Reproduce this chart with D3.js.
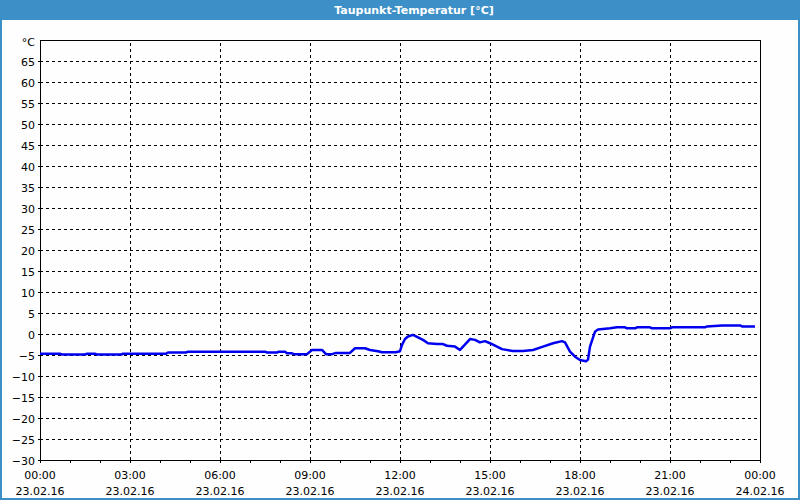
<!DOCTYPE html>
<html>
<head>
<meta charset="utf-8">
<script src="https://cdn.jsdelivr.net/npm/d3@7"></script>
<style>
  html, body { margin: 0; padding: 0; background: #fdfefd; }
  svg { display: block; }
  text { font-family: "DejaVu Sans", Verdana, sans-serif; }
</style>
</head>
<body>
<svg id="chart" width="800" height="500"></svg>
<script>
const title = "Taupunkt-Temperatur [°C]";
const unitLabel = "°C";
const day = "2016-02-23";
const times = ["00:00","00:40","00:44","01:30","01:34","01:50","01:54","02:42","02:46","04:12",
  "04:16","04:52","04:56","07:30","07:34","07:54","07:58","08:10","08:14","08:24",
  "08:28","08:54","09:04","09:24","09:32","09:44","09:52","10:20","10:30","10:50",
  "11:00","11:16","11:24","11:52","12:00","12:04","12:10","12:16","12:26","12:46",
  "12:56","13:14","13:26","13:34","13:50","14:00","14:20","14:30","14:40","14:50",
  "15:00","15:14","15:24","15:46","16:06","16:26","16:46","17:06","17:24","17:30",
  "17:40","17:50","18:00","18:12","18:16","18:20","18:30","18:36","19:00","19:14",
  "19:30","19:34","19:50","19:54","20:20","20:24","21:00","21:04","22:10","22:14",
  "22:44","23:20","23:24","23:50"];
const dewPoint = [-4.7,-4.7,-4.9,-4.9,-4.7,-4.7,-4.9,-4.9,-4.7,-4.7,
  -4.4,-4.4,-4.2,-4.2,-4.4,-4.4,-4.2,-4.2,-4.6,-4.6,
  -4.8,-4.8,-3.8,-3.8,-4.8,-4.8,-4.5,-4.5,-3.4,-3.4,
  -3.8,-4.1,-4.35,-4.35,-4.1,-2.6,-1.2,-0.6,-0.2,-1.4,
  -2.2,-2.4,-2.4,-2.8,-3.0,-3.8,-1.2,-1.4,-2.0,-1.7,
  -2.2,-3.0,-3.6,-4.05,-4.05,-3.8,-3.0,-2.2,-1.7,-2.0,
  -4.2,-5.4,-6.2,-6.5,-6.1,-3.0,0.55,1.1,1.35,1.6,
  1.6,1.35,1.35,1.6,1.6,1.35,1.35,1.6,1.6,1.8,
  2.05,2.05,1.8,1.8];
const yTicks = [-30,-25,-20,-15,-10,-5,0,5,10,15,20,25,30,35,40,45,50,55,60,65];
const xTickHours = [0,3,6,9,12,15,18,21,24];
const xTickTimes = ["00:00","03:00","06:00","09:00","12:00","15:00","18:00","21:00","00:00"];
const xTickDates = ["23.02.16","23.02.16","23.02.16","23.02.16","23.02.16","23.02.16","23.02.16","23.02.16","24.02.16"];

const svg = d3.select("#chart");
const W = 800, H = 500;
const m = {left: 40, right: 40, top: 40, bottom: 40};
const pw = W - m.left - m.right, ph = H - m.top - m.bottom;
const blue = "#3c8fc7";

// frame & title bar
svg.append("rect").attr("x",0).attr("y",0).attr("width",W).attr("height",H).attr("fill","#fdfefd");
svg.append("rect").attr("x",0).attr("y",0).attr("width",W).attr("height",20).attr("fill",blue);
svg.append("rect").attr("x",0).attr("y",0).attr("width",2).attr("height",H).attr("fill",blue);
svg.append("rect").attr("x",W-2).attr("y",0).attr("width",2).attr("height",H).attr("fill",blue);
svg.append("rect").attr("x",0).attr("y",H-2).attr("width",W).attr("height",2).attr("fill",blue);
svg.append("text").attr("x",414).attr("y",10).attr("dy","0.35em").attr("text-anchor","middle")
  .attr("fill","#fff").attr("font-size","11px").attr("font-weight","bold").text(title);

const t0 = new Date(day + "T00:00:00");
const x = d3.scaleTime().domain([t0, d3.timeHour.offset(t0, 24)]).range([m.left, m.left + pw]);
const y = d3.scaleLinear().domain([-30, 70]).range([m.top + ph, m.top]);
const parse = d3.timeParse("%Y-%m-%d %H:%M");
const data = times.map((t, i) => ({t: parse(day + " " + t), v: dewPoint[i]}));

const g = svg.append("g");

// horizontal gridlines
g.append("g").attr("transform", `translate(${m.left},0)`)
  .call(d3.axisLeft(y).tickValues(yTicks.filter(v => v > -30)).tickSize(-pw).tickFormat(""))
  .call(s => s.select(".domain").remove())
  .call(s => s.selectAll("line").attr("stroke","#000").attr("stroke-dasharray","3,3").attr("shape-rendering","crispEdges"));

// vertical gridlines
const hourDates = xTickHours.map(h => d3.timeHour.offset(t0, h));
g.append("g").attr("transform", `translate(0,${m.top + ph})`)
  .call(d3.axisBottom(x).tickValues(hourDates.slice(1, -1)).tickSize(-ph).tickFormat(""))
  .call(s => s.select(".domain").remove())
  .call(s => s.selectAll("line").attr("stroke","#000").attr("stroke-dasharray","3,3").attr("shape-rendering","crispEdges"));

// hourly minor ticks on bottom
g.append("g").attr("transform", `translate(0,${m.top + ph})`)
  .call(d3.axisBottom(x).ticks(d3.timeHour.every(1)).tickSize(3).tickFormat(""))
  .call(s => s.select(".domain").remove())
  .call(s => s.selectAll("line").attr("stroke","#000").attr("shape-rendering","crispEdges"));

// plot frame
g.append("rect").attr("x", m.left + 0.5).attr("y", m.top + 0.5).attr("width", pw).attr("height", ph)
  .attr("fill","none").attr("stroke","#000").attr("shape-rendering","crispEdges");

// y axis labels
const ya = g.append("g").attr("transform", `translate(${m.left},0)`)
  .call(d3.axisLeft(y).tickValues(yTicks).tickSize(2).tickPadding(3));
ya.select(".domain").remove();
ya.selectAll("line").attr("stroke","#000").attr("shape-rendering","crispEdges");
ya.selectAll("text").attr("font-family","DejaVu Sans").attr("font-size","11px").attr("fill","#000").attr("dy","0.45em");
g.append("text").attr("x", m.left - 5).attr("y", y(70) + 6).attr("text-anchor","end")
  .attr("font-size","11px").attr("fill","#000").text(unitLabel);

// x axis labels (two lines)
const xl = g.append("g");
xl.selectAll("text.time").data(hourDates).join("text").attr("class","time")
  .attr("x", d => x(d)).attr("y", 479).attr("text-anchor","middle").attr("font-size","11px").attr("fill","#000")
  .text((d, i) => xTickTimes[i]);
xl.selectAll("text.date").data(hourDates).join("text").attr("class","date")
  .attr("x", d => x(d)).attr("y", 495).attr("text-anchor","middle").attr("font-size","11px").attr("fill","#000")
  .text((d, i) => xTickDates[i]);

// data line
g.append("path").datum(data)
  .attr("fill","none").attr("stroke","#0000f0").attr("stroke-width",2.5).attr("stroke-linejoin","round")
  .attr("d", d3.line().x(d => x(d.t)).y(d => y(d.v)));
</script>
</body>
</html>
